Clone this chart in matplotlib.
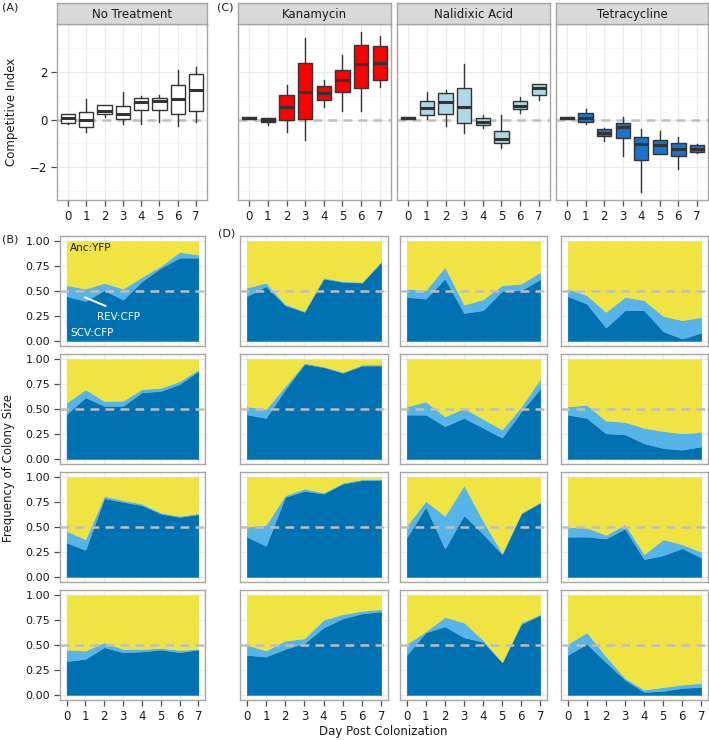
import matplotlib
matplotlib.use("Agg")
import matplotlib.pyplot as plt
import numpy as np

plt.rcParams['font.family'] = ['DejaVu Sans']

# ---------------- data ----------------
days = [0, 1, 2, 3, 4, 5, 6, 7]
treatments = ['No Treatment', 'Kanamycin', 'Nalidixic Acid', 'Tetracycline']
box_colors = ['#FFFFFF', '#FF0000', '#ADD8E6', '#1874CD']

# Competitive index box statistics (whisker low, Q1, median, Q3, whisker high)
none_lo = [-0.17, -0.53, 0.11, -0.18, -0.17, -0.12, -0.28, -0.12]
none_q1 = [-0.15, -0.30, 0.25, 0.04, 0.39, 0.39, 0.24, 0.37]
none_med = [0.07, -0.03, 0.37, 0.24, 0.74, 0.76, 0.86, 1.22]
none_q3 = [0.22, 0.30, 0.61, 0.56, 0.89, 0.89, 1.44, 1.92]
none_hi = [0.25, 0.86, 0.61, 1.14, 0.97, 1.04, 2.05, 2.19]

kan_lo = [0.03, -0.22, -0.53, -0.86, 0.53, 0.375, 0.35, 1.35]
kan_q1 = [0.04, -0.11, 0.0, 0.01, 0.80, 1.17, 1.33, 1.67]
kan_med = [0.07, -0.03, 0.53, 1.14, 1.125, 1.67, 2.32, 2.375]
kan_q3 = [0.11, 0.07, 1.01, 2.35, 1.42, 2.08, 3.11, 3.07]
kan_hi = [0.12, 0.08, 1.44, 3.40, 1.67, 2.71, 3.65, 3.50]

nal_lo = [0.03, 0.03, -0.29, -0.58, -0.35, -1.19, 0.28, 0.81]
nal_q1 = [0.04, 0.21, 0.24, -0.14, -0.22, -0.97, 0.42, 1.01]
nal_med = [0.07, 0.49, 0.74, 0.51, -0.10, -0.81, 0.58, 1.31]
nal_q3 = [0.11, 0.76, 1.11, 1.32, 0.07, -0.47, 0.76, 1.47]
nal_hi = [0.12, 1.14, 1.25, 2.32, 0.18, 0.18, 0.93, 1.47]

tet_lo = [0.03, -0.17, -0.90, -1.53, -3.03, -1.43, -2.07, -1.40]
tet_q1 = [0.04, -0.10, -0.69, -0.79, -1.69, -1.43, -1.53, -1.35]
tet_med = [0.07, 0.07, -0.56, -0.33, -1.04, -1.07, -1.25, -1.25]
tet_q3 = [0.11, 0.26, -0.39, -0.14, -0.71, -0.875, -1.00, -1.08]
tet_hi = [0.12, 0.46, -0.35, 0.11, -0.38, -0.49, -0.72, -1.04]

# Frequency of colony size: SCV:CFP share and total CFP (SCV + REV) share, 4 replicates each
none_scv = [[0.447, 0.400, 0.507, 0.413, 0.597, 0.730, 0.833, 0.833],
            [0.449, 0.616, 0.531, 0.531, 0.666, 0.679, 0.748, 0.879],
            [0.343, 0.270, 0.787, 0.750, 0.717, 0.633, 0.600, 0.627],
            [0.338, 0.361, 0.477, 0.427, 0.434, 0.454, 0.427, 0.454]]
none_cfp = [[0.557, 0.523, 0.580, 0.523, 0.640, 0.750, 0.890, 0.863],
            [0.564, 0.695, 0.580, 0.584, 0.698, 0.711, 0.777, 0.895],
            [0.460, 0.377, 0.810, 0.767, 0.733, 0.643, 0.610, 0.637],
            [0.454, 0.444, 0.526, 0.460, 0.460, 0.470, 0.450, 0.460]]

kan_scv = [[0.447, 0.547, 0.357, 0.290, 0.623, 0.590, 0.583, 0.790],
           [0.446, 0.410, 0.695, 0.950, 0.918, 0.862, 0.934, 0.934],
           [0.403, 0.310, 0.800, 0.860, 0.833, 0.933, 0.967, 0.967],
           [0.400, 0.384, 0.460, 0.517, 0.675, 0.765, 0.815, 0.834]]
kan_cfp = [[0.533, 0.583, 0.367, 0.300, 0.633, 0.597, 0.590, 0.797],
           [0.525, 0.500, 0.728, 0.960, 0.925, 0.869, 0.944, 0.944],
           [0.503, 0.520, 0.817, 0.883, 0.843, 0.943, 0.977, 0.977],
           [0.503, 0.444, 0.543, 0.566, 0.752, 0.808, 0.841, 0.858]]

nal_scv = [[0.440, 0.423, 0.623, 0.280, 0.307, 0.500, 0.507, 0.617],
           [0.443, 0.443, 0.328, 0.410, 0.311, 0.213, 0.475, 0.705],
           [0.393, 0.700, 0.283, 0.617, 0.430, 0.227, 0.633, 0.743],
           [0.400, 0.626, 0.685, 0.576, 0.530, 0.328, 0.709, 0.800]]
nal_cfp = [[0.523, 0.507, 0.740, 0.363, 0.417, 0.557, 0.573, 0.690],
           [0.525, 0.574, 0.426, 0.508, 0.400, 0.295, 0.525, 0.803],
           [0.510, 0.760, 0.610, 0.917, 0.560, 0.237, 0.643, 0.750],
           [0.510, 0.636, 0.780, 0.725, 0.550, 0.328, 0.725, 0.808]]

tet_scv = [[0.447, 0.373, 0.133, 0.307, 0.307, 0.097, 0.023, 0.083],
           [0.443, 0.410, 0.256, 0.246, 0.157, 0.108, 0.092, 0.125],
           [0.403, 0.403, 0.383, 0.483, 0.177, 0.217, 0.287, 0.193],
           [0.400, 0.510, 0.328, 0.152, 0.030, 0.040, 0.070, 0.080]]
tet_cfp = [[0.523, 0.457, 0.290, 0.440, 0.407, 0.250, 0.207, 0.240],
           [0.525, 0.541, 0.384, 0.370, 0.311, 0.279, 0.256, 0.269],
           [0.500, 0.493, 0.420, 0.527, 0.227, 0.377, 0.327, 0.250],
           [0.510, 0.626, 0.387, 0.169, 0.053, 0.079, 0.103, 0.120]]

area_colors = ['#0072B2', '#56B4E9', '#F0E442']  # SCV:CFP, REV:CFP, Anc:YFP
freq_ticks = [0.0, 0.25, 0.5, 0.75, 1.0]
freq_labels = ['0.00', '0.25', '0.50', '0.75', '1.00']
ci_ticks = [-2, 0, 2]

box_sets = [(none_lo, none_q1, none_med, none_q3, none_hi),
            (kan_lo, kan_q1, kan_med, kan_q3, kan_hi),
            (nal_lo, nal_q1, nal_med, nal_q3, nal_hi),
            (tet_lo, tet_q1, tet_med, tet_q3, tet_hi)]
area_sets = [(none_scv, none_cfp), (kan_scv, kan_cfp), (nal_scv, nal_cfp), (tet_scv, tet_cfp)]

# ---------------- layout ----------------
W, H = 709, 740
fig = plt.figure(figsize=(W / 100, H / 100), dpi=100)

def ax_px(l, t, r, b, **kw):
    return fig.add_axes([l / W, 1 - b / H, (r - l) / W, (b - t) / H], **kw)

SPINE = '#A6A6A6'
GRID = '#EBEBEB'
TXT = '#1A1A1A'
TICKC = '#4D4D4D'
FS = 8.5

def style(ax):
    for s in ax.spines.values():
        s.set_color(SPINE)
        s.set_linewidth(1.0)
    ax.tick_params(colors=TICKC, labelcolor=TXT, labelsize=FS, length=4, width=0.9, pad=3)
    ax.set_axisbelow(True)

top_x = [(57, 207), (238, 391), (397, 550), (556, 708)]
strip_top, panel_top, panel_bot = 3, 24, 200

for i, (l, r) in enumerate(top_x):
    ax = ax_px(l, panel_top, r, panel_bot)
    style(ax)
    lo, q1, med, q3, hi = box_sets[i]
    stats = [dict(whislo=lo[k], q1=q1[k], med=med[k], q3=q3[k], whishi=hi[k], fliers=[])
             for k in range(len(days))]
    ax.axhline(0, color='#BEBEBE', lw=1.8, linestyle=(0, (3.5, 2.5)), zorder=1)
    ax.bxp(stats, positions=days, widths=0.78, patch_artist=True, showcaps=False,
           boxprops=dict(facecolor=box_colors[i], edgecolor='#333333', linewidth=1.0),
           medianprops=dict(color='#333333', linewidth=2.2),
           whiskerprops=dict(color='#333333', linewidth=1.0), zorder=3)
    ax.set_xlim(-0.6, 7.6)
    ax.set_ylim(-3.36, 3.99)
    ax.set_xticks(days)
    ax.set_xticklabels([str(d) for d in days])
    ax.set_yticks(ci_ticks)
    ax.set_yticks([-3, -1, 1, 3], minor=True)
    ax.grid(True, which='major', color=GRID, lw=0.8)
    ax.grid(True, which='minor', axis='y', color='#F4F4F4', lw=0.6)
    ax.tick_params(which='minor', length=0)
    if i > 0:
        ax.tick_params(axis='y', left=False, labelleft=False)
    else:
        ax.set_yticklabels(['\u22122', '0', '2'])
    # strip
    sax = ax_px(l, strip_top, r, panel_top)
    sax.set_facecolor('#D9D9D9')
    sax.set_xticks([]); sax.set_yticks([])
    for s in sax.spines.values():
        s.set_color(SPINE); s.set_linewidth(1.0)
    sax.text(0.5, 0.45, treatments[i], ha='center', va='center', fontsize=8.5, color=TXT,
             transform=sax.transAxes)

bot_x = [(60, 205), (240, 388), (400, 547), (561, 708)]
row_top0, row_h, row_pitch = 236, 110, 118

for i, (l, r) in enumerate(bot_x):
    scv_rows, cfp_rows = area_sets[i]
    for j in range(4):
        t = row_top0 + j * row_pitch
        ax = ax_px(l, t, r, t + row_h)
        style(ax)
        ax.tick_params(labelsize=8)
        scv = np.array(scv_rows[j])
        cfp = np.array(cfp_rows[j])
        rev = cfp - scv
        anc = 1 - cfp
        ax.stackplot(days, scv, rev, anc, colors=area_colors, linewidth=0.3,
                     edgecolor='face', zorder=2)
        ax.axhline(0.5, color='#BEBEBE', lw=1.8, linestyle=(0, (3.5, 2.5)), zorder=3)
        ax.set_xlim(-0.35, 7.35)
        ax.set_ylim(-0.05, 1.05)
        ax.set_xticks(days)
        ax.set_yticks(freq_ticks)
        ax.grid(True, color=GRID, lw=0.8)
        if i == 0:
            ax.set_yticklabels(freq_labels)
        else:
            ax.tick_params(axis='y', left=False, labelleft=False)
        if j == 3:
            ax.set_xticklabels([str(d) for d in days])
            ax.tick_params(axis='x', labelsize=FS)
        else:
            ax.tick_params(axis='x', bottom=False, labelbottom=False)
        if i == 0 and j == 0:
            ax.text(0.17, 0.93, 'Anc:YFP', color=TXT, fontsize=7.5, va='center', ha='left', zorder=5)
            ax.annotate('', xy=(0.84, 0.447), xytext=(2.2, 0.34),
                        arrowprops=dict(arrowstyle='-', color='white', lw=1.5), zorder=5)
            ax.text(2.75, 0.24, 'REV:CFP', color='white', fontsize=7.5, va='center', ha='center', zorder=5)
            ax.text(0.2, 0.08, 'SCV:CFP', color='white', fontsize=7.5, va='center', ha='left', zorder=5)

# titles and panel labels
fig.text(12 / W, 1 - 112 / H, 'Competitive Index', rotation=90, ha='center', va='center',
         fontsize=FS, color=TXT)
fig.text(9 / W, 1 - 468 / H, 'Frequency of Colony Size', rotation=90, ha='center', va='center',
         fontsize=FS, color=TXT)
fig.text(383 / W, 1 - 731 / H, 'Day Post Colonization', ha='center', va='center',
         fontsize=FS, color=TXT)
for lab, x, y in [('(A)', 2, 8), ('(C)', 217, 8), ('(B)', 2, 240), ('(D)', 218, 233)]:
    fig.text(x / W, 1 - y / H, lab, ha='left', va='center', fontsize=8, color=TXT)

fig.savefig('out.png', dpi=100)
